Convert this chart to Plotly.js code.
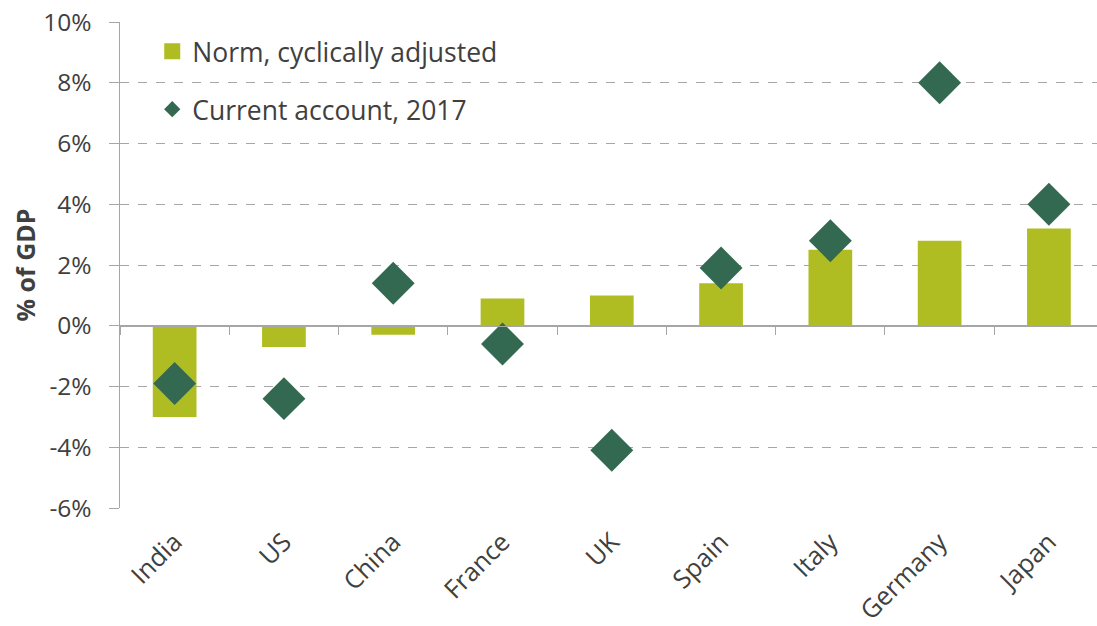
<!DOCTYPE html>
<html>
<head>
<meta charset="utf-8">
<script src="https://cdn.plot.ly/plotly-3.0.1.min.js"></script>
<style>html,body{margin:0;padding:0;background:#fff;}#chart{width:1097px;height:626px;}</style>
</head>
<body>
<div id="chart"></div>
<script>
const countries = ["India", "US", "China", "France", "UK", "Spain", "Italy", "Germany", "Japan"];
const normCyclicallyAdjusted = [-3.0, -0.7, -0.3, 0.9, 1.0, 1.4, 2.5, 2.8, 3.2];
const currentAccount2017 = [-1.9, -2.4, 1.4, -0.6, -4.1, 1.9, 2.8, 8.0, 4.0];
const yTickValues = [-6, -4, -2, 0, 2, 4, 6, 8, 10];
const yTickLabels = ["-6%", "-4%", "-2%", "0%", "2%", "4%", "6%", "8%", "10%"];
const seriesNames = ["Norm, cyclically adjusted", "Current account, 2017"];

const barColor = "#AFBD22";
const diamondColor = "#336950";
const textColor = "#404040";
const gridColor = "#A6A6A6";
const fontFamily = "'Open Sans', 'Noto Sans', sans-serif";
const xRange = [-0.5, 8.44];

const traces = [
  {
    type: "bar",
    x: countries,
    y: normCyclicallyAdjusted,
    name: seriesNames[0],
    marker: {color: barColor},
    width: 0.4,
    showlegend: false,
    xaxis: "x",
    yaxis: "y",
    hoverinfo: "x+y"
  },
  {
    type: "scatter",
    mode: "markers",
    x: countries,
    y: currentAccount2017,
    name: seriesNames[1],
    marker: {symbol: "diamond", size: 33, color: diamondColor},
    showlegend: false,
    xaxis: "x2",
    yaxis: "y",
    cliponaxis: false
  },
  {
    type: "scatter",
    mode: "markers",
    x: [null],
    y: [null],
    name: seriesNames[0],
    marker: {symbol: "square", size: 16, color: barColor},
    legend: "legend",
    showlegend: true,
    xaxis: "x2",
    yaxis: "y"
  },
  {
    type: "scatter",
    mode: "markers",
    x: [null],
    y: [null],
    name: seriesNames[1],
    marker: {symbol: "diamond", size: 12.5, color: diamondColor},
    legend: "legend2",
    showlegend: true,
    xaxis: "x2",
    yaxis: "y"
  }
];

const legendCommon = {
  font: {family: fontFamily, size: 26.5, color: textColor},
  bgcolor: "rgba(0,0,0,0)",
  xanchor: "left",
  yanchor: "middle",
  x: 0.033,
  itemclick: false,
  itemdoubleclick: false
};

const layout = {
  width: 1097,
  height: 626,
  margin: {l: 120, r: 0, t: 22, b: 118, pad: 0},
  paper_bgcolor: "#ffffff",
  plot_bgcolor: "#ffffff",
  font: {family: fontFamily, size: 25, color: textColor},
  showlegend: true,
  legend: Object.assign({}, legendCommon, {y: 0.939}),
  legend2: Object.assign({}, legendCommon, {y: 0.82}),
  xaxis: {
    type: "category",
    range: xRange,
    showgrid: false,
    zeroline: false,
    showline: false,
    ticks: "",
    tickangle: -45,
    ticklabelstandoff: 13,
    tickfont: {family: fontFamily, size: 25.5, color: textColor},
    fixedrange: true
  },
  xaxis2: {
    type: "category",
    overlaying: "x",
    anchor: "free",
    position: 0.375,
    range: xRange,
    showgrid: false,
    zeroline: false,
    showline: true,
    linecolor: gridColor,
    linewidth: 1.5,
    ticks: "outside",
    tickson: "boundaries",
    ticklen: 8,
    tickcolor: gridColor,
    tickwidth: 1,
    showticklabels: false,
    fixedrange: true
  },
  yaxis: {
    range: [-6, 10],
    tickvals: yTickValues,
    ticktext: yTickLabels,
    showgrid: true,
    gridcolor: gridColor,
    griddash: "dash",
    gridwidth: 1,
    zeroline: true,
    zerolinecolor: gridColor,
    zerolinewidth: 1.5,
    showline: true,
    linecolor: gridColor,
    linewidth: 1.5,
    ticks: "outside",
    ticklen: 10,
    tickcolor: gridColor,
    ticklabelstandoff: 12,
    tickfont: {family: fontFamily, size: 24.5, color: textColor},
    title: {
      text: "<b>% of GDP</b>",
      font: {family: fontFamily, size: 25, color: textColor},
      standoff: 0
    },
    fixedrange: true
  }
};

Plotly.newPlot("chart", traces, layout, {displayModeBar: false, staticPlot: true});
</script>
</body>
</html>
